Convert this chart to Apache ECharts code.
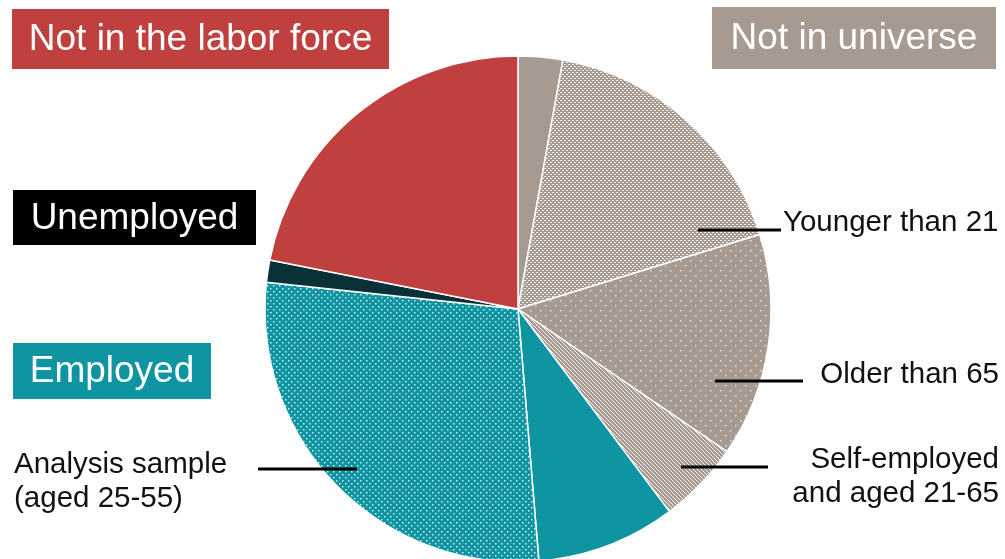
<!DOCTYPE html>
<html>
<head>
<meta charset="utf-8">
<script src="https://cdn.jsdelivr.net/npm/echarts@6/dist/echarts.min.js"></script>
<style>
html,body{margin:0;padding:0;background:#fff;}
#chart{width:1005px;height:559px;}
</style>
</head>
<body>
<div id="chart"></div>
<script>
// ---- data ----
var categories = ['Not in universe (other)', 'Younger than 21', 'Older than 65', 'Self-employed and aged 21-65', 'Employed (other)', 'Analysis sample (aged 25-55)', 'Unemployed', 'Not in the labor force'];
var values = [2.84, 17.4, 14.3, 5.25, 8.9, 28.0, 1.42, 21.9];
var groupLabels = ['Not in the labor force', 'Not in universe', 'Unemployed', 'Employed'];
var sliceLabels = ['Younger than 21', 'Older than 65', 'Self-employed\nand aged 21-65', 'Analysis sample\n(aged 25-55)'];

// ---- styles ----
var RED = '#C0403F', GREY = '#A69A91', TEAL = '#0F94A2', DARK = '#0A3138';
var FONT = '"Liberation Sans", Arial, sans-serif';

function makeTile(w, h, bg, draw) {
  var c = document.createElement('canvas');
  c.width = w; c.height = h;
  var ctx = c.getContext('2d');
  ctx.fillStyle = bg; ctx.fillRect(0, 0, w, h);
  ctx.fillStyle = 'rgba(255,255,255,0.85)';
  draw(ctx);
  return { image: c, repeat: 'repeat' };
}
var fineDots = makeTile(4, 4, GREY, function (ctx) {
  ctx.fillRect(0, 0, 2, 1); ctx.fillRect(2, 2, 2, 1);
});
var sparseDots = makeTile(10, 10, GREY, function (ctx) {
  ctx.fillStyle = 'rgba(255,255,255,0.7)';
  ctx.fillRect(0, 0, 1.5, 1.5); ctx.fillRect(5, 5, 1.5, 1.5);
});
var stripes = makeTile(4, 4, GREY, function (ctx) {
  ctx.fillStyle = 'rgba(255,255,255,0.85)';
  for (var y = 0; y < 4; y++) {
    for (var x = 0; x < 4; x++) {
      if (((x - y) % 4 + 4) % 4 === 0) ctx.fillRect(x, y, 1, 1);
    }
  }
});
var tealDots = makeTile(6, 6, TEAL, function (ctx) {
  ctx.fillStyle = 'rgba(255,255,255,0.8)';
  ctx.fillRect(0, 0, 1.5, 1.5); ctx.fillRect(3, 3, 1.5, 1.5);
});
var sliceColors = [GREY, fineDots, sparseDots, stripes, TEAL, tealDots, DARK, RED];

var chart = echarts.init(document.getElementById('chart'));

function box(x, y, w, h, fill, text) {
  return {
    type: 'group', left: x, top: y,
    children: [
      { type: 'rect', shape: { x: 0, y: 0, width: w, height: h }, style: { fill: fill } },
      { type: 'text', x: w / 2, y: h / 2 + 1, style: { text: text, fill: '#fff', font: '37px ' + FONT, textAlign: 'center', textVerticalAlign: 'middle' } }
    ]
  };
}
function leader(x1, x2, y) {
  return { type: 'line', shape: { x1: x1, y1: y, x2: x2, y2: y }, style: { stroke: '#000', lineWidth: 3 }, z: 10 };
}
function label(x, y, text, align) {
  return { type: 'text', x: x, y: y, style: { text: text, fill: '#111', font: '29.5px ' + FONT, textAlign: align, textVerticalAlign: 'middle', lineHeight: 34 }, z: 10 };
}

chart.setOption({
  animation: false,
  series: [{
    type: 'pie',
    center: [518, 309],
    radius: 253,
    startAngle: 90,
    clockwise: true,
    label: { show: false },
    labelLine: { show: false },
    emphasis: { disabled: true },
    itemStyle: { borderColor: '#fff', borderWidth: 1.5 },
    data: categories.map(function (c, i) {
      return { name: c, value: values[i], itemStyle: { color: sliceColors[i] } };
    })
  }],
  graphic: [
    box(12, 9, 377, 60, RED, groupLabels[0]),
    box(712, 7, 284, 62, GREY, groupLabels[1]),
    box(13, 190, 243, 55, '#000', groupLabels[2]),
    box(13, 343, 198, 56, TEAL, groupLabels[3]),
    leader(698, 781, 230),
    leader(715, 803, 381),
    leader(681, 768, 467),
    leader(258, 357, 469),
    label(783, 223, sliceLabels[0], 'left'),
    label(999, 375, sliceLabels[1], 'right'),
    label(999, 477, sliceLabels[2], 'right'),
    label(14, 482, sliceLabels[3], 'left')
  ]
});
</script>
</body>
</html>
